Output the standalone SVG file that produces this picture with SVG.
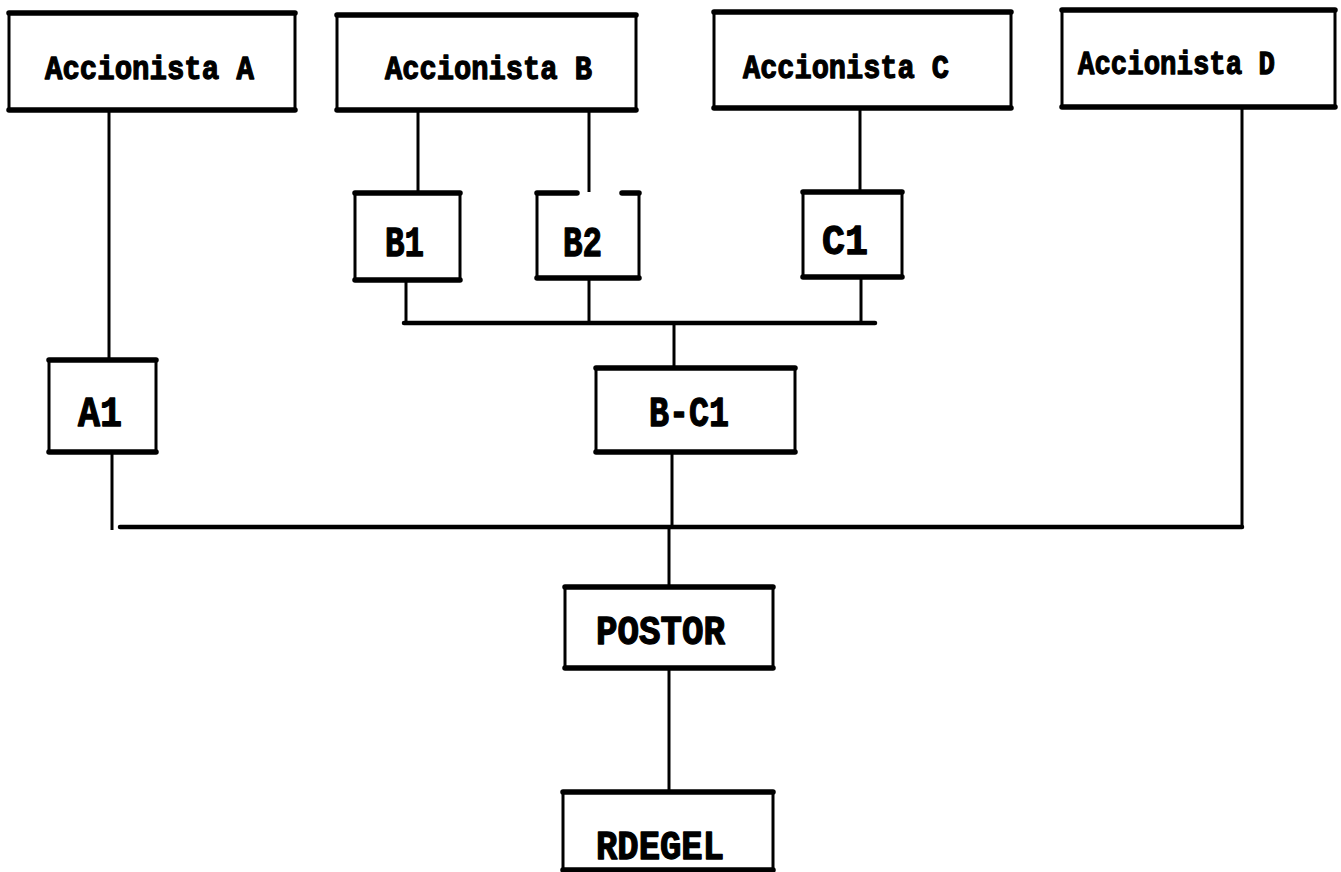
<svg xmlns="http://www.w3.org/2000/svg" width="1341" height="872" viewBox="0 0 1341 872">
<style>
.bg{fill:#fff}
.box{fill:#fff;stroke:#000;stroke-width:3}
.edge{stroke:#000;stroke-width:5.5;stroke-linecap:round;fill:none}
.con{stroke:#000;stroke-width:3;fill:none}
.bus{stroke:#000;stroke-width:4.5;stroke-linecap:round;fill:none}
text{font-family:"Liberation Mono","DejaVu Sans Mono",monospace;font-weight:bold;fill:#000;stroke:#000;stroke-width:1.3;stroke-linejoin:round}
.big{font-size:34px}
.mid{font-size:42px}
.low{font-size:40px}
</style>
<rect class="bg" x="0" y="0" width="1341" height="872"/>
<g id="connectors">
<line class="con" x1="109" y1="110" x2="109" y2="360"/>
<line class="con" x1="418" y1="110" x2="418" y2="193"/>
<line class="con" x1="589" y1="110" x2="589" y2="192"/>
<line class="con" x1="860" y1="108" x2="860" y2="192"/>
<line class="con" x1="1242" y1="107" x2="1242" y2="527"/>
<line class="con" x1="406" y1="280" x2="406" y2="323"/>
<line class="con" x1="589" y1="278" x2="589" y2="323"/>
<line class="con" x1="861" y1="277" x2="861" y2="323"/>
<line class="bus" x1="404" y1="323" x2="875" y2="323"/>
<line class="con" x1="674" y1="323" x2="674" y2="368"/>
<line class="con" x1="112" y1="452" x2="112" y2="530"/>
<line class="con" x1="672" y1="452" x2="672" y2="527"/>
<line class="bus" x1="120" y1="527" x2="1242" y2="527"/>
<line class="con" x1="669" y1="527" x2="669" y2="587"/>
<line class="con" x1="669" y1="668" x2="669" y2="792"/>
</g>
<g id="accionista-a">
<rect class="box" x="9" y="13" width="286" height="97"/>
<line class="edge" x1="9" y1="13" x2="295" y2="13"/><line class="edge" x1="9" y1="110" x2="295" y2="110"/>
<text class="big" x="45" y="79" textLength="209" lengthAdjust="spacingAndGlyphs">Accionista A</text>
</g>
<g id="accionista-b">
<rect class="box" x="337" y="15" width="299" height="95"/>
<line class="edge" x1="337" y1="15" x2="636" y2="15"/><line class="edge" x1="337" y1="110" x2="636" y2="110"/>
<text class="big" x="385" y="79" textLength="207" lengthAdjust="spacingAndGlyphs">Accionista B</text>
</g>
<g id="accionista-c">
<rect class="box" x="714" y="12" width="297" height="96"/>
<line class="edge" x1="714" y1="12" x2="1011" y2="12"/><line class="edge" x1="714" y1="108" x2="1011" y2="108"/>
<text class="big" x="743" y="78" textLength="206" lengthAdjust="spacingAndGlyphs">Accionista C</text>
</g>
<g id="accionista-d">
<rect class="box" x="1062" y="10" width="273" height="97"/>
<line class="edge" x1="1062" y1="10" x2="1335" y2="10"/><line class="edge" x1="1062" y1="107" x2="1335" y2="107"/>
<text class="big" x="1078" y="74" textLength="197" lengthAdjust="spacingAndGlyphs">Accionista D</text>
</g>
<g id="b1">
<rect class="box" x="355" y="193" width="105" height="87"/>
<line class="edge" x1="355" y1="193" x2="460" y2="193"/><line class="edge" x1="355" y1="280" x2="460" y2="280"/>
<text class="mid" x="385" y="256" textLength="39" lengthAdjust="spacingAndGlyphs">B1</text>
</g>
<g id="b2">
<path class="con" d="M577,193 L537,193 L537,278 L639,278 L639,193 L622,193"/>
<line class="edge" x1="537" y1="193" x2="577" y2="193"/><line class="edge" x1="622" y1="193" x2="639" y2="193"/>
<line class="edge" x1="537" y1="278" x2="639" y2="278"/>
<text class="mid" x="563" y="256" textLength="39" lengthAdjust="spacingAndGlyphs">B2</text>
</g>
<g id="c1">
<rect class="box" x="803" y="192" width="99" height="85"/>
<line class="edge" x1="803" y1="192" x2="902" y2="192"/><line class="edge" x1="803" y1="277" x2="902" y2="277"/>
<text class="mid" x="822" y="254" textLength="46" lengthAdjust="spacingAndGlyphs">C1</text>
</g>
<g id="a1">
<rect class="box" x="49" y="360" width="107" height="92"/>
<line class="edge" x1="49" y1="360" x2="156" y2="360"/><line class="edge" x1="49" y1="452" x2="156" y2="452"/>
<text class="mid" x="78" y="426" textLength="44" lengthAdjust="spacingAndGlyphs">A1</text>
</g>
<g id="b-c1">
<rect class="box" x="596" y="368" width="199" height="84"/>
<line class="edge" x1="596" y1="368" x2="795" y2="368"/><line class="edge" x1="596" y1="452" x2="795" y2="452"/>
<text class="mid" x="649" y="426" textLength="80" lengthAdjust="spacingAndGlyphs">B-C1</text>
</g>
<g id="postor">
<rect class="box" x="565" y="587" width="208" height="81"/>
<line class="edge" x1="565" y1="587" x2="773" y2="587"/><line class="edge" x1="565" y1="668" x2="773" y2="668"/>
<text class="low" x="596" y="644" textLength="129" lengthAdjust="spacingAndGlyphs">POSTOR</text>
</g>
<g id="rdegel">
<rect class="box" x="563" y="792" width="210" height="78"/>
<line class="edge" x1="563" y1="792" x2="773" y2="792"/><line class="edge" x1="563" y1="870" x2="773" y2="870"/>
<text class="low" x="596" y="859" textLength="128" lengthAdjust="spacingAndGlyphs">RDEGEL</text>
</g>
</svg>
